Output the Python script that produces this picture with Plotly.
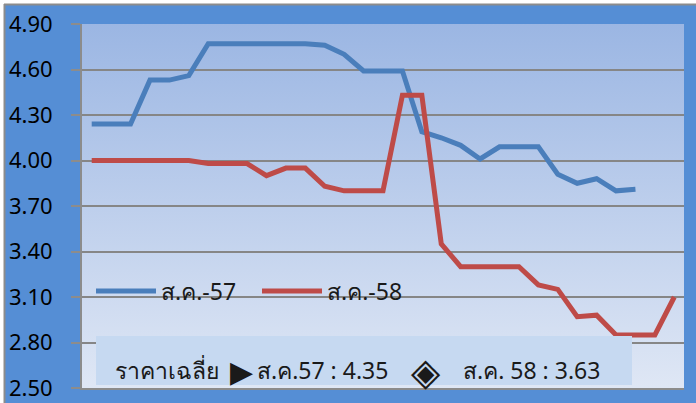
import base64
import plotly.graph_objects as go

# ---------------- data ----------------
days = [1, 2, 3, 4, 5, 6, 7, 8, 9, 10, 11, 12, 13, 14, 15, 16,
        17, 18, 19, 20, 21, 22, 23, 24, 25, 26, 27, 28, 29, 30, 31]
price_57 = [4.24, 4.24, 4.24, 4.53, 4.53, 4.56, 4.77, 4.77, 4.77, 4.77,
            4.77, 4.77, 4.76, 4.70, 4.59, 4.59, 4.59, 4.19, 4.15, 4.10,
            4.01, 4.09, 4.09, 4.09, 3.91, 3.85, 3.88, 3.80, 3.81, None, None]
price_58 = [4.00, 4.00, 4.00, 4.00, 4.00, 4.00, 3.98, 3.98, 3.98, 3.90,
            3.95, 3.95, 3.83, 3.80, 3.80, 3.80, 4.43, 4.43, 3.45, 3.30,
            3.30, 3.30, 3.30, 3.18, 3.15, 2.97, 2.98, 2.85, 2.85, 2.85, 3.10]
series_names = ["ส.ค.-57", "ส.ค.-58"]
y_ticks = [2.50, 2.80, 3.10, 3.40, 3.70, 4.00, 4.30, 4.60, 4.90]
avg_label = "ราคาเฉลี่ย"
avg_57_label = "ส.ค.57 : 4.35"
avg_58_label = "ส.ค. 58 : 3.63"

# ---------------- layout geometry ----------------
W, H = 696, 403
ML, MR, MT, MB = 82, 12, 24, 15
PW, PH = W - ML - MR, H - MT - MB


def px_x(p):
    return (p - ML) / PW


def px_y(p):
    return (H - MB - p) / PH


FONT = "Noto Sans, DejaVu Sans, sans-serif"
BLUE = "#4A7EBB"
RED = "#BE4B48"

svg = ('<svg xmlns="http://www.w3.org/2000/svg" width="10" height="100" preserveAspectRatio="none">'
       '<defs><linearGradient id="g" x1="0" y1="0" x2="0" y2="1">'
       '<stop offset="0" stop-color="#9BB6E3"/><stop offset="1" stop-color="#DFE7F5"/>'
       '</linearGradient></defs><rect width="10" height="100" fill="url(#g)"/></svg>')
grad_src = "data:image/svg+xml;base64," + base64.b64encode(svg.encode()).decode()

fig = go.Figure()
fig.add_trace(go.Scatter(x=days, y=price_57, mode="lines", name=series_names[0],
                         line=dict(color=BLUE, width=5), connectgaps=False))
fig.add_trace(go.Scatter(x=days, y=price_58, mode="lines", name=series_names[1],
                         line=dict(color=RED, width=5)))

shapes = [
    # white margin strips + gray outer border
    dict(type="rect", xref="paper", yref="paper", x0=px_x(0), x1=px_x(W), y0=px_y(0), y1=px_y(4),
         fillcolor="white", line=dict(width=0), layer="below"),
    dict(type="rect", xref="paper", yref="paper", x0=px_x(0), x1=px_x(4), y0=px_y(H), y1=px_y(0),
         fillcolor="white", line=dict(width=0), layer="below"),
    dict(type="line", xref="paper", yref="paper", x0=px_x(4), x1=px_x(W), y0=px_y(4.5), y1=px_y(4.5),
         line=dict(color="#8C8C8C", width=2), layer="below"),
    dict(type="line", xref="paper", yref="paper", x0=px_x(4.5), x1=px_x(4.5), y0=px_y(H), y1=px_y(4),
         line=dict(color="#8C8C8C", width=2), layer="below"),
    # average box
    dict(type="rect", xref="paper", yref="paper", x0=px_x(96), x1=px_x(632), y0=px_y(385), y1=px_y(336),
         fillcolor="#C6D9F1", line=dict(width=0), layer="above"),
]

annotations = []
for txt, xpix, size in [(avg_label, 113, 23), ("▶", 228, 30), (avg_57_label, 255, 23),
                        ("◈", 409, 38), (avg_58_label, 461, 23)]:
    annotations.append(dict(text=txt, xref="paper", yref="paper", x=px_x(xpix), y=px_y(370),
                            xanchor="left", yanchor="middle", showarrow=False,
                            font=dict(family=FONT, size=size, color="#1a1a1a")))

fig.update_layout(
    width=W, height=H,
    margin=dict(l=ML, r=MR, t=MT, b=MB, pad=0, autoexpand=False),
    paper_bgcolor="#558ED5",
    plot_bgcolor="#BCCFEC",
    showlegend=True,
    legend=dict(orientation="h", x=px_x(91), y=px_y(291), xanchor="left", yanchor="middle",
                bgcolor="rgba(0,0,0,0)", font=dict(family=FONT, size=23, color="#1a1a1a"),
                itemwidth=60, entrywidth=91, tracegroupgap=0),
    xaxis=dict(range=[0.5, 31.5], showticklabels=False, showgrid=False, zeroline=False,
               showline=True, linecolor="#8C8C8C", linewidth=2, ticks="", automargin=False),
    yaxis=dict(range=[2.5, 4.9], tickvals=y_ticks, ticktext=[f"{v:.2f}" for v in y_ticks],
               showgrid=True, gridcolor="#868686", gridwidth=2, zeroline=False,
               showline=True, linecolor="#8C8C8C", linewidth=2, automargin=False,
               ticks="outside", ticklen=9, tickwidth=2, tickcolor="#8C8C8C",
               ticklabelstandoff=14, tickfont=dict(family=FONT, size=22, color="black")),
    shapes=shapes,
    annotations=annotations,
    images=[dict(source=grad_src, xref="paper", yref="paper", x=0, y=1, sizex=1, sizey=1,
                 xanchor="left", yanchor="top", sizing="stretch", layer="below")],
)

fig.write_html("out.html", config={"displayModeBar": False},
               post_script="document.body.style.margin='0';document.body.style.overflow='hidden';")
